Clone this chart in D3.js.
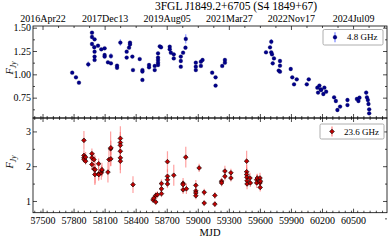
<!DOCTYPE html>
<html>
<head>
<meta charset="utf-8">
<script src="https://cdn.jsdelivr.net/npm/d3@7"></script>
<style>
  body { margin: 0; background: #fff; }
  svg { font-family: "Liberation Serif", "Times New Roman", serif; }
</style>
</head>
<body>
<div id="chart"></div>
<script>
// 4.8 GHz light curve (MJD, flux in Jy, error)
const mjd48 = [57787, 57823, 57852, 57942, 57978, 57978, 57978, 58000, 58003, 58003, 58003, 58003,
  58036, 58068, 58100, 58100, 58100, 58132, 58161, 58161, 58220, 58220, 58252, 58313, 58313, 58336,
  58345, 58345, 58368, 58374, 58439, 58465, 58465, 58465, 58529, 58529, 58584, 58584,
  58616, 58616, 58616, 58616, 58616, 58633, 58645, 58729, 58729, 58740, 58768, 58768,
  58836, 58836, 58836, 58858, 58881, 58884, 58981, 58981, 58981, 59030, 59030, 59046,
  59139, 59172, 59172, 59236, 59262, 59262,
  59659, 59698, 59710, 59710, 59717, 59724, 59736, 59782, 59794, 59794, 59794,
  59898, 59913, 59930, 59956, 60053, 60072, 60155, 60162, 60175, 60188, 60192, 60213, 60223, 60240,
  60317, 60334, 60349, 60375, 60446, 60446, 60537, 60552, 60562, 60627, 60634, 60643, 60649, 60656, 60656];
const flux48 = [1.018, 0.968, 0.911, 1.107, 1.446, 1.400, 1.325, 1.290, 1.375, 1.243, 1.190, 1.154,
  1.307, 1.268, 1.279, 1.207, 1.190, 1.129, 1.196, 1.118, 1.093, 1.070, 1.340, 1.243, 1.180, 1.286,
  1.340, 1.320, 1.190, 1.046, 1.164, 1.046, 1.030, 0.940, 1.100, 1.075, 1.090, 1.046,
  1.225, 1.180, 1.154, 1.125, 1.100, 1.300, 1.290, 1.296, 1.268, 1.232, 1.214, 1.171,
  1.190, 1.143, 1.082, 1.232, 1.286, 1.380, 1.125, 1.082, 1.046, 1.136, 1.090, 1.154,
  1.018, 0.968, 0.879, 1.090, 1.125, 1.154,
  1.236, 1.289, 1.350, 1.236, 1.214, 1.118, 1.171, 1.040, 1.143, 1.093, 1.029,
  1.057, 0.968, 0.893, 0.946, 0.893, 0.946, 0.857, 0.804, 0.879, 0.839, 0.832, 0.789, 0.857, 0.814,
  0.754, 0.714, 0.618, 0.654, 0.725, 0.671, 0.736, 0.714, 0.750, 0.804, 0.754, 0.725, 0.682, 0.625, 0.582];
const err48 = [0.01, 0.01, 0.01, 0.03, 0.015, 0.015, 0.015, 0.015, 0.015, 0.01, 0.01, 0.01,
  0.015, 0.015, 0.015, 0.01, 0.01, 0.01, 0.03, 0.01, 0.015, 0.01, 0.035, 0.015, 0.01, 0.015,
  0.015, 0.015, 0.015, 0.01, 0.01, 0.015, 0.01, 0.01, 0.015, 0.01, 0.015, 0.01,
  0.015, 0.015, 0.01, 0.01, 0.01, 0.015, 0.015, 0.015, 0.015, 0.015, 0.015, 0.01,
  0.015, 0.01, 0.015, 0.015, 0.02, 0.05, 0.015, 0.015, 0.01, 0.015, 0.01, 0.015,
  0.01, 0.015, 0.01, 0.01, 0.015, 0.015,
  0.015, 0.015, 0.03, 0.015, 0.015, 0.02, 0.015, 0.01, 0.015, 0.01, 0.01,
  0.015, 0.015, 0.01, 0.015, 0.015, 0.015, 0.015, 0.01, 0.015, 0.01, 0.01, 0.02, 0.015, 0.015,
  0.01, 0.015, 0.01, 0.01, 0.015, 0.01, 0.015, 0.01, 0.01, 0.02, 0.015, 0.015, 0.015, 0.015, 0.015];

// 23.6 GHz light curve
const mjd236 = [57900, 57900, 57900, 57902, 57916, 57916, 57977, 57977, 57977, 57997, 57997,
  58006, 58008, 58042, 58042, 58044, 58068, 58072, 58074, 58132, 58142, 58158, 58160, 58160,
  58252, 58252, 58252, 58252, 58252, 58252, 58374, 58568, 58575, 58594, 58594, 58610,
  58649, 58649, 58649, 58707, 58707, 58707, 58707, 58768, 58858, 58858, 58858, 58884, 58890,
  58981, 58981, 58981, 58981, 59013, 59062, 59062, 59165, 59165, 59230, 59230, 59262, 59262,
  59320, 59320, 59472, 59472, 59472, 59474, 59476, 59476, 59504, 59508,
  59569, 59569, 59575, 59601, 59601, 59603, 59605];
const flux236 = [2.744, 2.310, 2.240, 2.190, 2.260, 2.145, 2.360, 2.240, 2.050, 2.190, 1.920,
  1.760, 1.900, 1.780, 2.070, 1.760, 1.810, 1.870, 1.900, 1.830, 2.190, 2.500, 2.530, 2.210,
  2.800, 2.680, 2.600, 2.430, 2.240, 2.145, 1.470, 1.030, 1.080, 1.160, 0.970, 1.180,
  1.210, 1.350, 1.500, 2.130, 1.710, 1.610, 1.490, 1.740, 1.510, 1.470, 1.320, 2.260, 1.350,
  1.450, 1.290, 1.230, 1.150, 1.950, 1.250, 0.940, 1.160, 0.910, 1.570, 1.520, 1.860, 1.710,
  1.810, 1.660, 2.145, 1.840, 1.760, 1.680, 1.580, 1.490, 1.660, 1.520,
  1.610, 1.520, 1.660, 1.660, 1.520, 1.390, 1.570];
const err236 = [0.27, 0.15, 0.12, 0.1, 0.15, 0.1, 0.15, 0.12, 0.15, 0.2, 0.15,
  0.3, 0.4, 0.2, 0.15, 0.15, 0.2, 0.15, 0.2, 0.3, 0.3, 0.5, 0.2, 0.2,
  0.35, 0.3, 0.3, 0.3, 0.35, 0.35, 0.24, 0.08, 0.08, 0.1, 0.08, 0.1,
  0.1, 0.12, 0.12, 0.3, 0.2, 0.15, 0.12, 0.3, 0.15, 0.12, 0.12, 0.3, 0.15,
  0.15, 0.12, 0.12, 0.1, 0.12, 0.1, 0.08, 0.1, 0.08, 0.1, 0.1, 0.15, 0.12,
  0.12, 0.1, 0.3, 0.2, 0.2, 0.15, 0.15, 0.15, 0.15, 0.12,
  0.15, 0.15, 0.12, 0.15, 0.15, 0.12, 0.12];

// ticks
const mjdTicks = [57500, 57800, 58100, 58400, 58700, 59000, 59300, 59600, 59900, 60200, 60500];
const dateTicks = [57500, 58100, 58700, 59300, 59900, 60500];
const dateLabels = ["2016Apr22", "2017Dec13", "2019Aug05", "2021Mar27", "2022Nov17", "2024Jul09"];
const ticks48 = [0.75, 1.00, 1.25, 1.50];
const ticks236 = [1, 2, 3];

const width = 389, height = 240;
const left = 33, right = 387;
const topY = 26, midY = 118, botY = 212.7;

const svg = d3.select('#chart').append('svg')
  .attr('width', width).attr('height', height);

const x = d3.scaleLinear().domain([57408, 60828]).range([left, right]);
const y1 = d3.scaleLinear().domain([0.532, 1.518]).range([midY, topY]);
const y2 = d3.scaleLinear().domain([0.663, 3.386]).range([botY, midY]);

const minorX = d3.range(57420, 60828, 60);

function styleAxis(g, size) {
  g.select('.domain').remove();
  g.selectAll('.tick line').attr('stroke', '#000').attr('stroke-width', 0.7);
  g.selectAll('.tick text').attr('fill', '#000').style('font-size', size + 'px')
    .style('font-family', '"Liberation Serif", serif');
}

function drawPanel(y, y0, y1px, ticks, fmt, minorY) {
  // left axis
  const gl = svg.append('g').attr('transform', `translate(${left},0)`)
    .call(d3.axisLeft(y).tickValues(ticks).tickFormat(fmt).tickSize(-4).tickPadding(2));
  styleAxis(gl, 10);
  const glm = svg.append('g').attr('transform', `translate(${left},0)`)
    .call(d3.axisLeft(y).tickValues(minorY).tickFormat('').tickSize(-2));
  styleAxis(glm, 10);
  // right axis
  const gr = svg.append('g').attr('transform', `translate(${right},0)`)
    .call(d3.axisRight(y).tickValues(ticks).tickFormat('').tickSize(-4));
  styleAxis(gr, 10);
  const grm = svg.append('g').attr('transform', `translate(${right},0)`)
    .call(d3.axisRight(y).tickValues(minorY).tickFormat('').tickSize(-2));
  styleAxis(grm, 10);
  // frame
  svg.append('rect').attr('x', left).attr('y', y1px)
    .attr('width', right - left).attr('height', y0 - y1px)
    .attr('fill', 'none').attr('stroke', '#000').attr('stroke-width', 0.8);
}

function drawXTicks(yPos, dirDown, labels) {
  const ax = dirDown ? d3.axisTop : d3.axisBottom;
  const g = svg.append('g').attr('transform', `translate(0,${yPos})`)
    .call(ax(x).tickValues(mjdTicks).tickFormat(labels ? d3.format('d') : '').tickSize(-4).tickPadding(4));
  styleAxis(g, 10);
  const gm = svg.append('g').attr('transform', `translate(0,${yPos})`)
    .call(ax(x).tickValues(minorX).tickFormat('').tickSize(-2));
  styleAxis(gm, 10);
}

// top panel
drawPanel(y1, midY, topY, ticks48, d3.format('.2f'), d3.range(0.625, 1.5, 0.25));
drawXTicks(midY, false, false);
const gt = svg.append('g').attr('transform', `translate(0,${topY})`)
  .call(d3.axisTop(x).tickValues(dateTicks).tickFormat((d, i) => dateLabels[i]).tickSize(-4).tickPadding(4.5));
styleAxis(gt, 10);
const gtm = svg.append('g').attr('transform', `translate(0,${topY})`)
  .call(d3.axisTop(x).tickValues(d3.range(57650, 60828, 150).filter(v => (v - 57500) % 600 !== 0)).tickFormat('').tickSize(-2));
styleAxis(gtm, 10);

// bottom panel
drawPanel(y2, botY, midY, ticks236, d3.format('d'), d3.range(0.5, 3.4, 0.5).filter(v => v % 1 !== 0));
drawXTicks(midY, true, false);
drawXTicks(botY, false, true);

// data: 4.8 GHz
const d48 = mjd48.map((m, i) => ({ m, f: flux48[i], e: err48[i] }));
svg.append('g').selectAll('line').data(d48).join('line')
  .attr('x1', d => x(d.m)).attr('x2', d => x(d.m))
  .attr('y1', d => y1(d.f - d.e)).attr('y2', d => y1(d.f + d.e))
  .attr('stroke', '#6b78ff').attr('stroke-width', 1.1).attr('opacity', 0.8);
svg.append('g').selectAll('circle').data(d48).join('circle')
  .attr('cx', d => x(d.m)).attr('cy', d => y1(d.f)).attr('r', 1.9)
  .attr('fill', '#00008b').attr('stroke', '#000050').attr('stroke-width', 0.3);

// data: 23.6 GHz (diamond markers)
const diamond = d3.symbol().type(d3.symbolSquare).size(11);
const d236 = mjd236.map((m, i) => ({ m, f: flux236[i], e: err236[i] }));
svg.append('g').selectAll('line').data(d236).join('line')
  .attr('x1', d => x(d.m)).attr('x2', d => x(d.m))
  .attr('y1', d => y2(d.f - d.e)).attr('y2', d => y2(d.f + d.e))
  .attr('stroke', '#ff7070').attr('stroke-width', 1.2).attr('opacity', 0.65);
svg.append('g').selectAll('path').data(d236).join('path')
  .attr('d', diamond)
  .attr('transform', d => `translate(${x(d.m)},${y2(d.f)}) rotate(45)`)
  .attr('fill', '#c00000').attr('stroke', '#000').attr('stroke-width', 0.6);

// legends
function legend(lx, ly, w, h, label, mark, ebar) {
  const g = svg.append('g');
  g.append('rect').attr('x', lx).attr('y', ly).attr('width', w).attr('height', h)
    .attr('rx', 1.5).attr('fill', '#fff').attr('stroke', '#999').attr('stroke-width', 0.8);
  const mx = lx + 12, my = ly + h / 2;
  g.append('line').attr('x1', mx).attr('x2', mx).attr('y1', my - 5).attr('y2', my + 5)
    .attr('stroke', ebar).attr('stroke-width', 1.1);
  mark(g, mx, my);
  g.append('text').attr('x', lx + 24).attr('y', my + 3.2).text(label)
    .style('font-size', '9px');
}
legend(323, 29.5, 60, 15.5, '4.8 GHz', (g, mx, my) =>
  g.append('circle').attr('cx', mx).attr('cy', my).attr('r', 1.9)
    .attr('fill', '#00008b').attr('stroke', '#000050').attr('stroke-width', 0.3), '#6b78ff');
legend(320, 124, 64, 15, '23.6 GHz', (g, mx, my) =>
  g.append('path').attr('d', diamond).attr('transform', `translate(${mx},${my}) rotate(45)`)
    .attr('fill', '#c00000').attr('stroke', '#000').attr('stroke-width', 0.6), '#ff7070');

// y labels
function ylabel(cy) {
  const t = svg.append('text').attr('transform', `translate(13,${cy}) rotate(-90)`)
    .attr('text-anchor', 'middle').style('font-size', '10.5px').style('font-style', 'italic');
  t.append('tspan').text('F');
  t.append('tspan').attr('dy', 2.5).style('font-size', '7.5px').text('Jy');
}
ylabel(68);
ylabel(162);

// title and x label
svg.append('text').attr('x', 236).attr('y', 9.5).attr('text-anchor', 'middle')
  .style('font-size', '11.5px').text('3FGL J1849.2+6705 (S4 1849+67)');
svg.append('text').attr('x', 210).attr('y', 236).attr('text-anchor', 'middle')
  .style('font-size', '10.5px').text('MJD');
</script>
</body>
</html>
